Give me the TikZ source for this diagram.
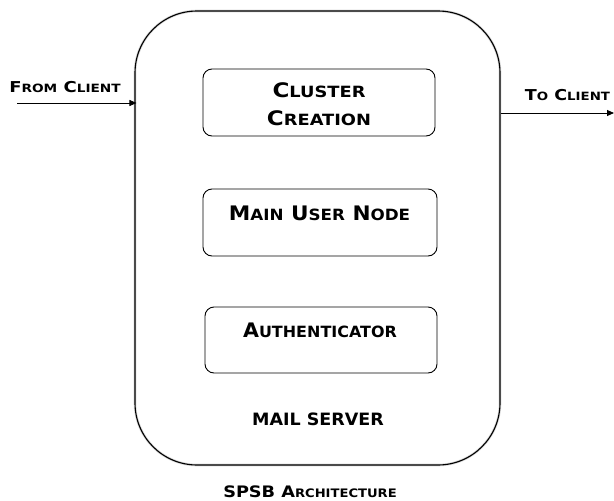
\documentclass[tikz,border=0pt]{standalone}
\usepackage{fontspec}
\usepackage{graphicx}
\usetikzlibrary{arrows.meta}
\newfontfamily\capsfont{DejaVu Sans}
% big initial + smaller capitals
\newcommand\setcaps[2]{\def\bigsz{#1}\def\smallsz{#2}\fontsize{#1}{28}\selectfont}
\newcommand\capword[2]{#1{\fontsize{\smallsz}{28}\selectfont #2}}
\begin{document}
\begin{tikzpicture}[x=1pt,y=-1pt,
  boxlabel/.style={font=\capsfont\bfseries\setcaps{20}{15.5}, inner sep=0pt, anchor=base},
  sidelabel/.style={font=\capsfont\bfseries\setcaps{15}{11.4}, inner sep=0pt, anchor=base},
  unit/.style={draw, line width=0.9pt, rounded corners=9pt, minimum width=232pt,
               minimum height=67pt, inner sep=0pt},
  flow/.style={line width=0.9pt, -{Triangle[length=7pt,width=6pt]}},
]
\useasboundingbox (0,0) rectangle (614,501);

% mail server frame with a soft halo
\draw[gray!30, line width=2.6pt, rounded corners=62pt] (135,11) rectangle (500,465);
\node[draw, line width=1.1pt, rounded corners=62pt, minimum width=365pt,
      minimum height=454pt, inner sep=0pt] (server) at (317.5,238) {};

% internal units
\node[unit] (cluster) at (319,102.5) {};
\node[unit, minimum width=234pt] (mainuser) at (320,222.5) {};
\node[unit, minimum height=66pt] (auth) at (321,340) {};

% two-line label: base anchor sits on the last line
\node[boxlabel, align=center] (clustertxt) at (319,125.5)
  {\scalebox{1.15}[1]{\capword{C}{LUSTER}}\\\scalebox{1.15}[1]{\capword{C}{REATION}}};
\node[boxlabel] (mainusertxt) at (319.5,220)
  {\scalebox{1.08}[1]{\capword{M}{AIN} \capword{U}{SER} \capword{N}{ODE}}};
\node[boxlabel] (authtxt) at (320,337)
  {\scalebox{1.03}[1]{\capword{A}{UTHENTICATOR}}};

\node[font=\capsfont\bfseries\fontsize{17}{20}\selectfont, inner sep=0pt, anchor=base]
  (servertxt) at (318,425) {\scalebox{1.03}[1]{MAIL SERVER}};

% client side
\node[sidelabel] (fromtxt) at (65,92.7) {\scalebox{1.2}[1]{\capword{F}{ROM} \capword{C}{LIENT}}};
\node[sidelabel] (totxt) at (567.5,100) {\scalebox{1.17}[1]{\capword{T}{O} \capword{C}{LIENT}}};

\coordinate (fromstart) at (17,103);
\draw[flow] (fromstart) -- ([xshift=2pt]fromstart -| server.west);
\coordinate (toend) at (614,113);
\draw[flow] (toend -| server.east) -- (toend);

% caption
\node[font=\capsfont\bfseries\setcaps{15.8}{11.7}, inner sep=0pt, anchor=base]
  (caption) at (310,497.7) {\scalebox{1.12}[1]{SPSB \capword{A}{RCHITECTURE}}};
\end{tikzpicture}
\end{document}
